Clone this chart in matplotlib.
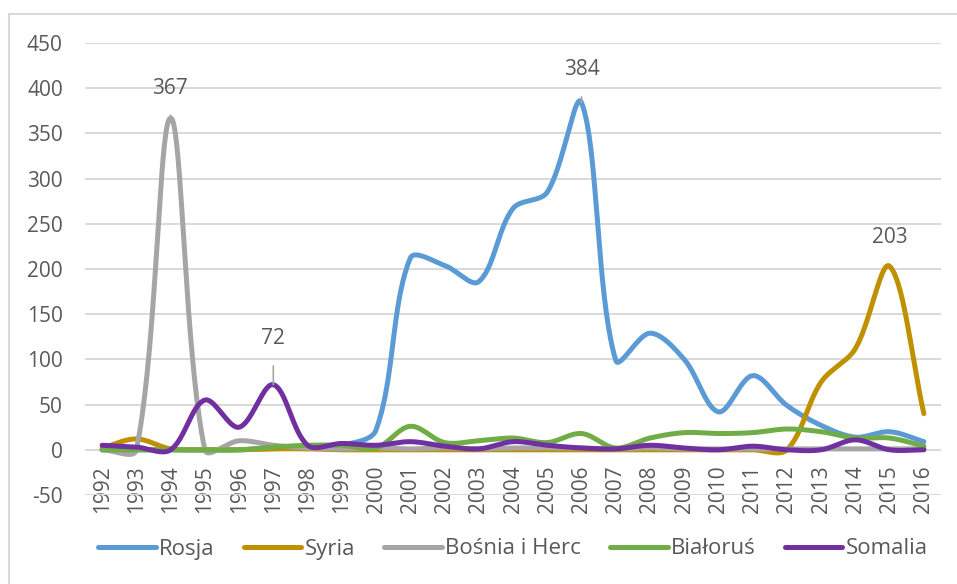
import numpy as np
import matplotlib.pyplot as plt
from matplotlib.patches import Rectangle

years = list(range(1992, 2017))
rosja = [0, 0, 0, 0, 0, 2, 3, 5, 22, 212, 204, 186, 267, 285, 384, 99, 129, 100, 42, 82, 49, 27, 14, 20, 9]
syria = [2, 12, 1, 0, 0, 1, 1, 0, 0, 0, 0, 0, 0, 0, 0, 0, 0, 0, 0, 0, 0, 75, 112, 203, 40]
bosnia = [0, 0, 367, 0, 10, 5, 2, 1, 2, 1, 2, 1, 2, 2, 2, 1, 2, 1, 1, 1, 1, 1, 1, 1, 1]
bialorus = [0, 0, 0, 0, 0, 3, 5, 5, 2, 26, 8, 10, 13, 8, 18, 2, 13, 19, 18, 19, 23, 20, 13, 13, 4]
somalia = [5, 3, 0, 55, 25, 72, 5, 7, 5, 9, 4, 1, 9, 5, 2, 1, 5, 2, 0, 4, 0, 0, 11, 0, 0]

names = ["Rosja", "Syria", "Bośnia i Herc", "Białoruś", "Somalia"]
colors = ["#5B9BD5", "#BF9000", "#A5A5A5", "#70AD47", "#7030A0"]
series = [rosja, syria, bosnia, bialorus, somalia]

plt.rcParams['font.family'] = ['Open Sans', 'DejaVu Sans']
plt.rcParams['axes.unicode_minus'] = False
txt = '#595959'
fs = 15

fig = plt.figure(figsize=(9.57, 5.84), dpi=100)
ax = fig.add_axes([85 / 957, 1 - 495 / 584, (941 - 85) / 957, (495 - 43) / 584])
ax.set_xlim(1991.5, 2016.5)
ax.set_ylim(-50, 450)


def excel_smooth(xs, ys, n=40):
    # bezier smoothing done in pixel space, like excel's "smoothed line"
    pts = ax.transData.transform(np.column_stack([xs, ys]))
    out = [pts[0]]
    m = len(pts)
    t = np.linspace(0, 1, n)[1:, None]
    for i in range(m - 1):
        p0 = pts[max(i - 1, 0)]
        p1 = pts[i]
        p2 = pts[i + 1]
        p3 = pts[min(i + 2, m - 1)]
        d01 = np.hypot(*(p1 - p0))
        d12 = np.hypot(*(p2 - p1))
        d23 = np.hypot(*(p3 - p2))
        f1 = d12 / (d01 + d12) if d01 + d12 > 0 else 0
        f2 = d12 / (d12 + d23) if d12 + d23 > 0 else 0
        c1 = p1 + (p2 - p0) * f1 / 3
        c2 = p2 - (p3 - p1) * f2 / 3
        seg = (1 - t) ** 3 * p1 + 3 * (1 - t) ** 2 * t * c1 + 3 * (1 - t) * t ** 2 * c2 + t ** 3 * p2
        out.extend(seg)
    out = np.array(out)
    return ax.transData.inverted().transform(out)


handles = []
for name, col, vals in zip(names, colors, series):
    xy = excel_smooth(years, vals)
    ln, = ax.plot(xy[:, 0], xy[:, 1], color=col, lw=3.6, solid_capstyle='round', label=name)
    handles.append(ln)

ax.set_yticks(range(-50, 451, 50))
ax.yaxis.grid(True, color='#d9d9d9', lw=1.4)
ax.set_axisbelow(True)
for s in ['top', 'right', 'left']:
    ax.spines[s].set_visible(False)
ax.spines['bottom'].set_position(('data', 0))
ax.spines['bottom'].set_visible(False)
ax.set_xticks(years)
ax.set_xticklabels([str(y) for y in years], rotation=90)
ax.tick_params(axis='x', length=0, pad=11, labelsize=fs, labelcolor=txt)
ax.tick_params(axis='y', length=0, pad=16, labelsize=fs, labelcolor=txt)

# data labels
lead = dict(arrowstyle='-', color='#a6a6a6', lw=1.2, shrinkA=10, shrinkB=0)
ax.annotate("367", xy=(1994, 367), xytext=(-1, 30), textcoords='offset pixels',
            ha='center', va='center', fontsize=fs, color=txt, arrowprops=lead)
ax.annotate("72", xy=(1997, 72), xytext=(0, 46), textcoords='offset pixels',
            ha='center', va='center', fontsize=fs, color=txt, arrowprops=lead)
ax.annotate("384", xy=(2006, 384), xytext=(0, 33), textcoords='offset pixels',
            ha='center', va='center', fontsize=fs, color=txt, arrowprops=lead)
ax.annotate("203", xy=(2015, 203), xytext=(0, 29), textcoords='offset pixels',
            ha='center', va='center', fontsize=fs, color=txt)

fig.legend(handles, names, loc='center', bbox_to_anchor=(513 / 957, 1 - 549 / 584),
           ncol=5, frameon=False, handlelength=2.6, handletextpad=0.15,
           columnspacing=1.3, fontsize=16, labelcolor=txt)

# chart area border
fig.patches.append(Rectangle((9 / 957, -0.1), 2, (584 - 14) / 584 + 0.1,
                             transform=fig.transFigure, fill=False,
                             edgecolor='#d9d9d9', lw=1.5))

plt.savefig("out.png", dpi=100)
plt.close()
